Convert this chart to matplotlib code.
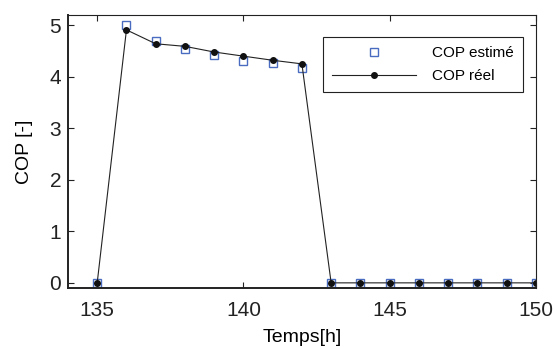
import numpy as np
import matplotlib
matplotlib.use("Agg")
from matplotlib import pyplot as plt

# Data.
temps = [135, 136, 137, 138, 139, 140, 141, 142, 143, 144, 145, 146, 147, 148, 149, 150]
cop_estime = [0.0, 5.0, 4.69, 4.53, 4.43, 4.31, 4.27, 4.17, 0, 0, 0, 0, 0, 0, 0, 0]
cop_reel = [0.0, 4.91, 4.64, 4.59, 4.48, 4.40, 4.32, 4.25, 0, 0, 0, 0, 0, 0, 0, 0]

plt.rcParams['font.family'] = ['Liberation Sans', 'DejaVu Sans']

fig = plt.figure(figsize=(5.57, 3.47), dpi=100)
ax = fig.add_axes([0.122, 0.170, 0.840, 0.787])

# Estimated values: open blue squares.
ax.plot(temps, cop_estime, 's', markerfacecolor='none', markeredgecolor='#4a6cc0',
        markersize=6, markeredgewidth=1.0, label='COP estimé', linestyle='none')

# Real values: black line with dots.
ax.plot(temps, cop_reel, '-', color='#222222', linewidth=0.8, marker='o',
        markersize=4, markerfacecolor='#111111', markeredgecolor='#111111', label='COP réel')

ax.set_xlim(134, 150)
ax.set_ylim(-0.1, 5.2)
ax.set_xticks([135, 140, 145, 150])
ax.set_yticks([0, 1, 2, 3, 4, 5])
ax.tick_params(direction='in', top=True, right=True, labelsize=15, length=4, colors='#222222')
ax.tick_params(axis='x', pad=9)
ax.tick_params(axis='y', pad=5)

for side in ['top', 'right']:
    ax.spines[side].set_linewidth(0.8)
for side in ['left', 'bottom']:
    ax.spines[side].set_linewidth(1.4)
for s in ax.spines.values():
    s.set_color('#222222')

ax.set_xlabel('Temps[h]', fontsize=14, labelpad=7)
ax.set_ylabel('COP [-]', fontsize=14, labelpad=12)

leg = ax.legend(loc='upper right', bbox_to_anchor=(0.988, 0.948), fontsize=11, fancybox=False,
                edgecolor='#222222', framealpha=1, handlelength=5.5, borderpad=0.6,
                labelspacing=0.6, handletextpad=1.0)
leg.get_frame().set_linewidth(0.8)

fig.savefig('out.png', dpi=100)
